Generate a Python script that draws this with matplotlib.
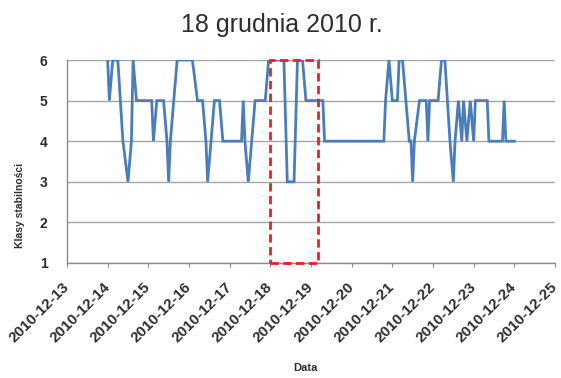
"""
Klasy stabilnosci atmosfery, 14-24 grudnia 2010 (wykres liniowy z zaznaczonym 18 grudnia)
"""
import numpy as np
import pandas as pd
import matplotlib
matplotlib.use("Agg")
import matplotlib.pyplot as plt
import matplotlib.dates as mdates
from matplotlib.patches import Rectangle

# odczytane punkty zalamania serii: godziny od 2010-12-14 00:00 i klasa stabilnosci
start = pd.Timestamp("2010-12-14 00:00")
hours = [0, 1, 3, 6, 9, 12, 14, 15, 17, 26, 27, 29, 33, 35, 36, 37, 39, 41,
         50, 53, 56, 58, 59, 61, 63, 66, 68, 79, 80, 81, 83, 85, 87, 93, 95,
         104, 106, 110, 112, 115, 117, 127, 128, 163, 164, 166, 168, 171, 172,
         174, 178, 179, 180, 181, 184, 188, 189, 190, 195, 197, 199, 202, 204,
         205, 207, 209, 210, 212, 214, 216, 217, 224, 225, 233, 234, 235, 240]
classes = [6, 5, 6, 6, 4, 3, 4, 6, 5, 5, 4, 5, 5, 4, 3, 4, 5, 6,
           6, 5, 5, 4, 3, 4, 5, 5, 4, 4, 5, 4, 3, 4, 5, 5, 6,
           6, 3, 3, 6, 6, 5, 5, 4, 4, 5, 6, 5, 5, 6,
           6, 4, 4, 3, 4, 5, 5, 4, 5, 5, 6, 6, 4, 3,
           4, 5, 4, 5, 4, 5, 4, 5, 5, 4, 4, 5, 4, 4]
times = start + pd.to_timedelta(hours, unit="h")

x_start = pd.Timestamp("2010-12-13")
x_end = pd.Timestamp("2010-12-25")
y_ticks = [1, 2, 3, 4, 5, 6]

# zaznaczony dzien 18 grudnia
box_start = pd.Timestamp("2010-12-18 00:00")
box_end = pd.Timestamp("2010-12-19 04:00")

title = "18 grudnia 2010 r."
x_label = "Data"
y_label = "Klasy stabilności"

font = "Liberation Sans"
line_color = "#4a7ebb"
grid_color = "#a6a6a6"
text_color = "#2e2e2e"

fig = plt.figure(figsize=(5.61, 3.78), dpi=100)
ax = fig.add_axes([67 / 561, 1 - 263 / 378, 488 / 561, 203 / 378])

ax.plot(times, classes, color=line_color, linewidth=2.0, solid_joinstyle="miter")

# czerwona przerywana ramka
x0 = mdates.date2num(box_start)
x1 = mdates.date2num(box_end)
ax.add_patch(Rectangle((x0, 1), x1 - x0, 5, fill=False, edgecolor="#e8202a",
                       linewidth=2.0, linestyle=(0, (3, 1.6)), zorder=5, clip_on=False))

ax.set_xlim(x_start, x_end)
ax.set_ylim(1, 6)
ax.set_yticks(y_ticks)
ax.xaxis.set_major_locator(mdates.DayLocator())
ax.xaxis.set_major_formatter(mdates.DateFormatter("%Y-%m-%d"))

ax.yaxis.grid(True, color=grid_color, linewidth=1.0)
ax.set_axisbelow(True)
for s in ["top", "right"]:
    ax.spines[s].set_visible(False)
for s in ["left", "bottom"]:
    ax.spines[s].set_color("#8c8c8c")
    ax.spines[s].set_linewidth(1.0)

ax.tick_params(axis="y", length=0, pad=14, labelsize=10, labelcolor=text_color)
ax.tick_params(axis="x", length=3, color="#8c8c8c", pad=13, labelsize=11, labelcolor=text_color)
for label in ax.get_yticklabels():
    label.set_fontname(font)
    label.set_fontweight("bold")
for label in ax.get_xticklabels():
    label.set_fontname(font)
    label.set_fontweight("bold")
    label.set_rotation(45)
    label.set_ha("right")
    label.set_va("center")
    label.set_rotation_mode("anchor")

fig.text(282 / 561, 1 - 25 / 378, title, ha="center", va="center",
         fontsize=18, fontname=font, color=text_color)
fig.text(305 / 561, 1 - 368 / 378, x_label, ha="center", va="center",
         fontsize=8, fontname=font, fontweight="bold", color=text_color)
fig.text(20 / 561, 1 - 205 / 378, y_label, ha="center", va="center", rotation=90,
         fontsize=7.5, fontname=font, fontweight="bold", color=text_color)

fig.savefig("out.png", dpi=100, facecolor="white")
